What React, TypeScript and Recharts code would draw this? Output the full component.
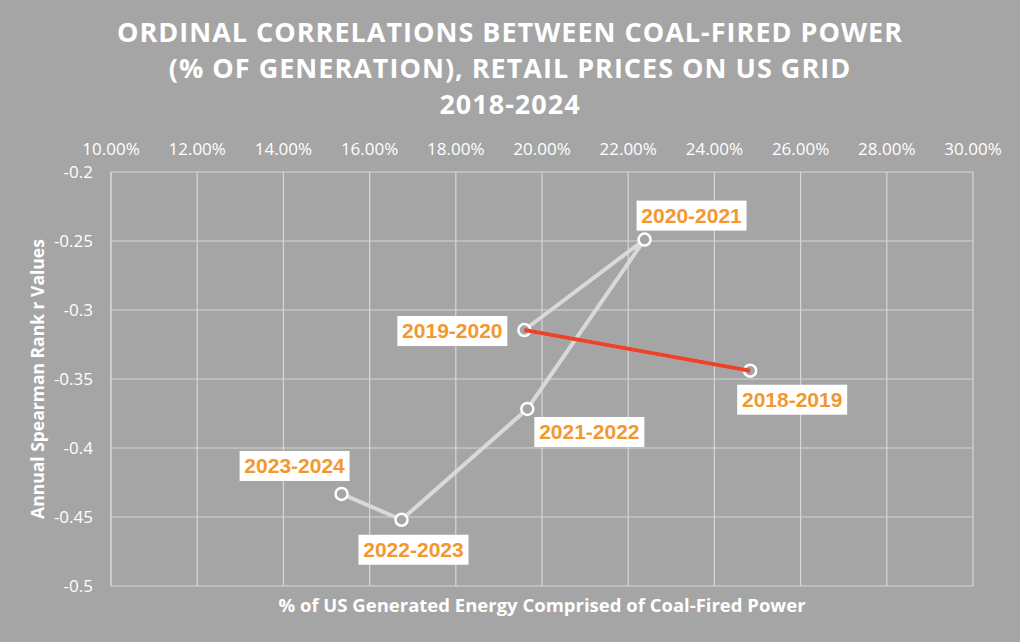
import { ScatterChart, Scatter, XAxis, YAxis, CartesianGrid } from 'recharts';

const periods = ['2018-2019', '2019-2020', '2020-2021', '2021-2022', '2022-2023', '2023-2024'];
const coalShare = [24.83, 19.59, 22.38, 19.66, 16.74, 15.35];
const spearmanR = [-0.344, -0.3145, -0.249, -0.3717, -0.452, -0.4333];

const xTicks = [10, 12, 14, 16, 18, 20, 22, 24, 26, 28, 30];
const yTicks = [-0.5, -0.45, -0.4, -0.35, -0.3, -0.25, -0.2];

const points = periods.map((period, i) => ({ period, share: coalShare[i], r: spearmanR[i] }));
// gray path runs from the latest period back to 2019-2020, red segment ends it
const grayPath = [...points].reverse();
const redPath = points.slice(0, 2);

// label box centre relative to its point
const labelOffset: Record<string, [number, number]> = {
  '2018-2019': [42, 29],
  '2019-2020': [-72, 1],
  '2020-2021': [47, -24],
  '2021-2022': [62, 23],
  '2022-2023': [12, 30],
  '2023-2024': [-47, -28],
};

const BG = '#a5a5a5';
const font = '"Open Sans", sans-serif';

function PointMarker(props: any) {
  const { cx, cy, payload } = props;
  const [dx, dy] = labelOffset[payload.period] || [0, 0];
  return (
    <g>
      <circle cx={cx} cy={cy} r={6} fill={BG} stroke="#fff" strokeWidth={2.5} />
      <rect x={cx + dx - 55} y={cy + dy - 15} width={110} height={30} fill="#fff" />
      <text
        x={cx + dx}
        y={cy + dy + 7}
        textAnchor="middle"
        fontFamily='"Liberation Sans", Arial, sans-serif'
        fontWeight={700}
        fontSize={21}
        fill="#f3982f"
      >
        {payload.period}
      </text>
    </g>
  );
}

const NoMarker = () => <g />;

export default function App() {
  return (
    <div style={{ position: 'absolute', left: 0, top: 0, width: 1020, height: 642, background: BG, fontFamily: font }}>
      <div
        style={{
          position: 'absolute',
          top: 14,
          left: 0,
          width: 1020,
          textAlign: 'center',
          color: '#fff',
          fontWeight: 700,
          fontSize: 27,
          lineHeight: '36px',
          letterSpacing: 1,
        }}
      >
        ORDINAL CORRELATIONS BETWEEN COAL-FIRED POWER
        <br />
        (% OF GENERATION), RETAIL PRICES ON US GRID
        <br />
        2018-2024
      </div>
      <ScatterChart width={1020} height={642} margin={{ top: 142, right: 47, bottom: 56, left: 11 }}>
        <CartesianGrid stroke="#d6d6d6" strokeWidth={1.2} />
        <XAxis
          type="number"
          dataKey="share"
          orientation="top"
          height={30}
          domain={[10, 30]}
          ticks={xTicks}
          tickFormatter={(v: number) => v.toFixed(2) + '%'}
          axisLine={false}
          tickLine={false}
          tickSize={8}
          tickMargin={9}
          tick={{ fill: '#fff', fontSize: 17, fontFamily: font }}
        />
        <YAxis
          type="number"
          dataKey="r"
          width={100}
          domain={[-0.5, -0.2]}
          ticks={yTicks}
          tickFormatter={(v: number) => String(v)}
          axisLine={{ stroke: '#d6d6d6', strokeWidth: 1.2 }}
          tickLine={false}
          tickSize={8}
          tickMargin={10}
          tick={{ fill: '#fff', fontSize: 17, fontFamily: font }}
        />
        <Scatter
          data={grayPath}
          line={{ stroke: '#d9d9d9', strokeWidth: 4 }}
          shape={PointMarker}
          isAnimationActive={false}
        />
        <Scatter
          data={redPath}
          line={{ stroke: '#e8432b', strokeWidth: 4 }}
          shape={NoMarker}
          isAnimationActive={false}
        />
      </ScatterChart>
      <div
        style={{
          position: 'absolute',
          left: 37 - 160,
          top: 379 - 12,
          width: 320,
          height: 24,
          lineHeight: '24px',
          textAlign: 'center',
          transform: 'rotate(-90deg)',
          color: '#fff',
          fontWeight: 700,
          fontSize: 17.5,
        }}
      >
        Annual Spearman Rank r Values
      </div>
      <div
        style={{
          position: 'absolute',
          left: 542 - 350,
          top: 592,
          width: 700,
          lineHeight: '26px',
          textAlign: 'center',
          color: '#fff',
          fontWeight: 700,
          fontSize: 18.5,
        }}
      >
        % of US Generated Energy Comprised of Coal-Fired Power
      </div>
    </div>
  );
}
